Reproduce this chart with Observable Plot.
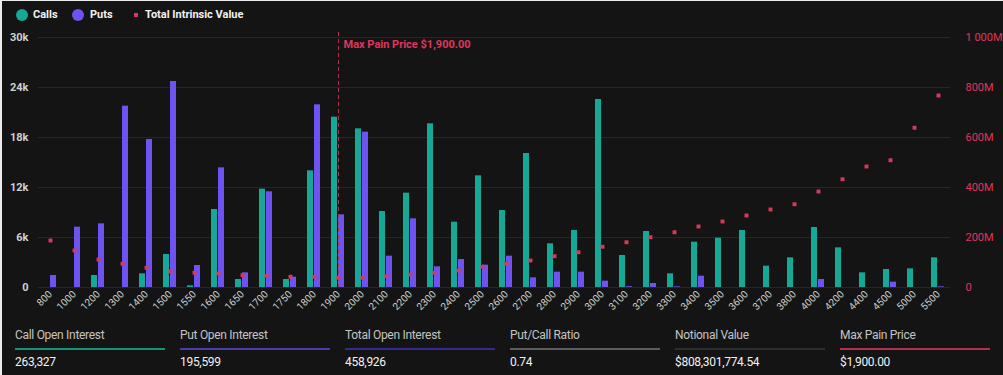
<!DOCTYPE html>
<html><head><meta charset="utf-8">
<script src="https://cdn.jsdelivr.net/npm/d3@7"></script>
<script src="https://cdn.jsdelivr.net/npm/@observablehq/plot@0.6"></script>
<style>
html,body{margin:0;padding:0;background:#ececec;}
#card{position:absolute;left:2px;top:1px;width:1001px;height:374px;background:#141414;font-family:Roboto,"Noto Sans",sans-serif;overflow:hidden;}
#legend{position:absolute;left:0;top:0;width:1001px;height:27px;}
.li{position:absolute;top:7px;font-size:11px;font-weight:bold;color:#f2f2f2;line-height:14px;}
.sw{position:absolute;}
#chart{position:absolute;left:0;top:27px;}
.stat{position:absolute;top:326px;width:150px;}
.stat .lab{font-size:12px;color:#c4c4c4;letter-spacing:-0.3px;height:16px;line-height:16px;}
.stat .bar{height:2px;margin-top:5px;}
.stat .val{font-size:12px;color:#f2f2f2;margin-top:5px;letter-spacing:-0.3px;line-height:14px;}
</style></head>
<body>
<div id="card">
  <div id="legend">
    <div class="sw" style="left:14px;top:8px;width:12px;height:12px;border-radius:6px;background:#14a896;"></div>
    <div class="li" style="left:31px;">Calls</div>
    <div class="sw" style="left:70px;top:8px;width:12px;height:12px;border-radius:6px;background:#6f52f2;"></div>
    <div class="li" style="left:88px;">Puts</div>
    <div class="sw" style="left:132px;top:12px;width:4px;height:4px;background:#e0355a;"></div>
    <div class="li" style="left:143px;">Total Intrinsic Value</div>
  </div>
  <div id="chart"></div>
  <div id="stats"></div>
</div>
<script>
const strikes = ["800","1000","1200","1300","1400","1500","1550","1600","1650","1700","1750","1800","1900","2000","2100","2200","2300","2400","2500","2600","2700","2800","2900","3000","3100","3200","3300","3400","3500","3600","3700","3800","4000","4200","4400","4500","5000","5500"];
const calls = [0,0,1440,0,1640,3960,200,9360,960,11800,960,14000,20440,19040,9120,11320,19640,7840,13400,9240,16080,5240,6840,22560,3840,6720,1640,5440,5920,6840,2560,3560,7200,4760,1760,2160,2240,3560];
const puts = [1440,7240,7640,21760,17760,24720,2640,14360,1760,11480,1240,21920,8720,18640,3760,8240,2480,3360,2680,3760,1160,1840,1840,760,100,480,80,1360,0,0,0,0,960,0,0,640,0,80];
const intrinsicM = [188,148,112,95,79,65,59,56,49,47,43,43,39,39,45,52,59,68,83,95,108,125,141,163,181,201,221,244,264,288,312,333,384,433,484,509,639,768];
const leftTicks = [0,6000,12000,18000,24000,30000];
const rightTicksM = [0,200,400,600,800,1000];
const maxPainStrike = "1900";
const maxPainLabel = "Max Pain Price $1,900.00";
const statLabels = ["Call Open Interest","Put Open Interest","Total Open Interest","Put/Call Ratio","Notional Value","Max Pain Price"];
const statValues = ["263,327","195,599","458,926","0.74","$808,301,774.54","$1,900.00"];
const statColors = ["#17907c","#4a3aa6","#35288e","#5c5c5c","#2e2e2e","#b0304e"];

const rightMax = 1000, leftMax = 30000;
const toLeft = m => m / rightMax * leftMax;
const rows = strikes.map((s, i) => ({strike: s, call: calls[i], put: puts[i], iv: toLeft(intrinsicM[i])}));

const chart = Plot.plot({
  width: 1001, height: 291,
  marginLeft: 36, marginRight: 53, marginTop: 4, marginBottom: 32,
  style: {background: "transparent", fontFamily: "Roboto, sans-serif"},
  x: {type: "band", domain: strikes, padding: 0},
  y: {domain: [0, leftMax], insetTop: 5},
  marks: [
    Plot.gridY(leftTicks, {stroke: "#262626", strokeOpacity: 1}),
    Plot.axisY(leftTicks, {anchor: "left", tickSize: 0, tickPadding: 10, label: null,
      tickFormat: d => d === 0 ? "0" : (d / 1000) + "k", fill: "#d0d0d0", fontSize: 11, fontWeight: "bold"}),
    Plot.axisY(rightTicksM.map(toLeft), {anchor: "right", tickSize: 0, tickPadding: 15, label: null,
      tickFormat: d => { const m = Math.round(d / leftMax * rightMax); return m === 0 ? "0" : m >= 1000 ? "1 000M" : m + "M"; },
      fill: "#e0355a", fontSize: 11}),
    Plot.axisX({tickRotate: -45, tickSize: 0, tickPadding: 5, label: null, fill: "#d0d0d0", fontSize: 10}),
    Plot.barY(rows, {x: "strike", y: "call", fill: "#14a896", insetLeft: 5, insetRight: 13}),
    Plot.barY(rows, {x: "strike", y: "put", fill: "#6f52f2", insetLeft: 12, insetRight: 6}),
    Plot.ruleX([maxPainStrike], {stroke: "#b0304e", strokeDasharray: "4,3", strokeWidth: 1}),
    Plot.text([maxPainStrike], {x: d => d, frameAnchor: "top", text: () => maxPainLabel, textAnchor: "start",
      dx: 5, dy: 8, fill: "#e0355a", fontSize: 11, fontWeight: "bold"}),
    Plot.dot(rows, {x: "strike", y: "iv", symbol: "square", r: 2.2, fill: "#e0355a", stroke: "none"})
  ]
});
document.getElementById("chart").appendChild(chart);

const stats = document.getElementById("stats");
const colX = [13, 178, 343, 508, 673, 838];
statLabels.forEach((l, i) => {
  const d = document.createElement("div");
  d.className = "stat";
  d.style.left = colX[i] + "px";
  d.innerHTML = `<div class="lab">${l}</div><div class="bar" style="background:${statColors[i]}"></div><div class="val">${statValues[i]}</div>`;
  stats.appendChild(d);
});
</script>
</body></html>
